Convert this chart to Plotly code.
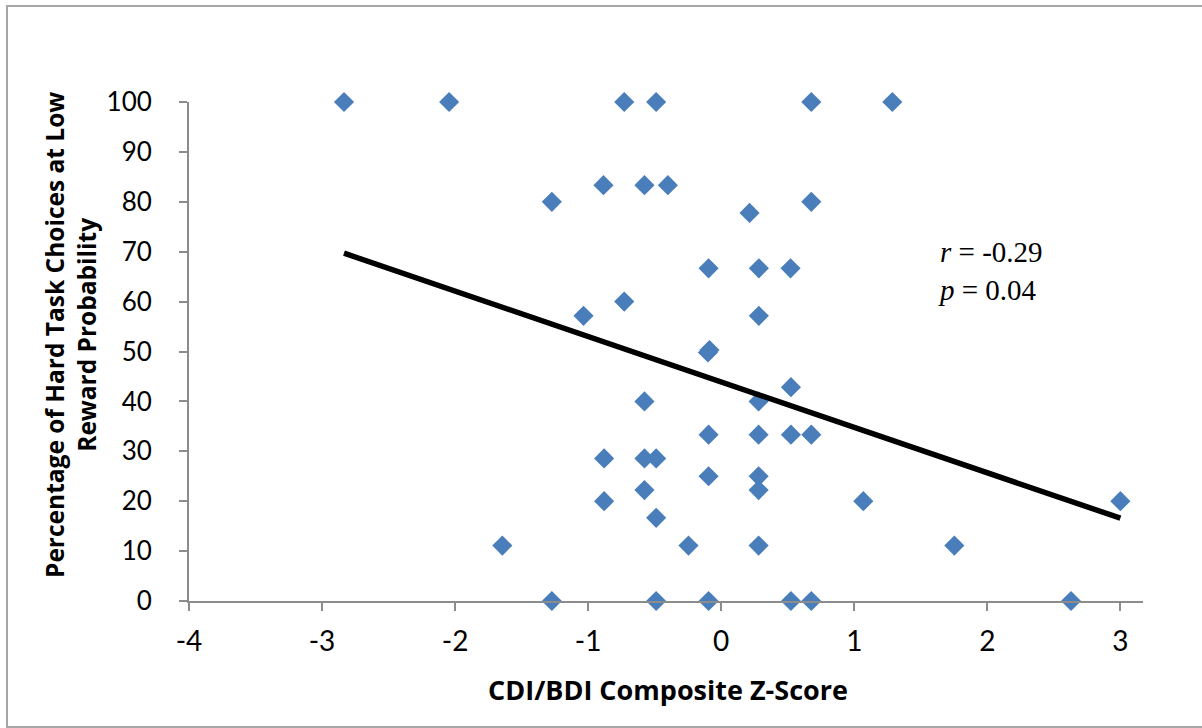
import plotly.graph_objects as go

# ---- data ----
z_scores = [-2.835, -2.045, -0.729, -0.489, 0.677, 1.286,
            -0.885, -0.577, -0.401,
            -1.273, 0.677, 0.213,
            -0.095, 0.283, 0.521,
            -0.729, -1.035, 0.283,
            -0.100, -0.088,
            0.524, -0.577, 0.281,
            -0.095, 0.281, 0.524, 0.677,
            -0.880, -0.577, -0.489,
            -0.095, 0.281,
            -0.577, 0.281,
            -0.880, 1.068, 3.000,
            -0.489,
            -1.645, -0.246, 0.281, 1.752,
            -1.273, -0.489, -0.095, 0.524, 0.677, 2.629]
pct_hard = [100, 100, 100, 100, 100, 100,
            83.33, 83.33, 83.33,
            80, 80, 77.78,
            66.67, 66.67, 66.67,
            60, 57.14, 57.14,
            49.8, 50.3,
            42.86, 40, 40,
            33.33, 33.33, 33.33, 33.33,
            28.57, 28.57, 28.57,
            25, 25,
            22.22, 22.22,
            20, 20, 20,
            16.67,
            11.11, 11.11, 11.11, 11.11,
            0, 0, 0, 0, 0, 0]
trend_x = [-2.835, 3.0]
trend_y = [69.7, 16.6]
x_ticks = [-4, -3, -2, -1, 0, 1, 2, 3]
y_ticks = [0, 10, 20, 30, 40, 50, 60, 70, 80, 90, 100]

# ---- layout geometry (pixels) ----
W, H = 1202, 728
L, R, T, B = 189, 1143, 102, 601
pw, ph = R - L, B - T


def px(xp):
    return (xp - L) / pw


def py(yp):
    return (B - yp) / ph


axis_col = "#8c8c8c"
tick_family = "Lato, Open Sans, sans-serif"
title_family = "Open Sans, Lato, sans-serif"

fig = go.Figure()
fig.add_trace(go.Scatter(
    x=z_scores, y=pct_hard, mode="markers",
    marker=dict(symbol="diamond", size=15.5, color="#4a7ebb",
                line=dict(width=0)),
    cliponaxis=False, showlegend=False, hoverinfo="x+y"))
fig.add_trace(go.Scatter(
    x=trend_x, y=trend_y, mode="lines",
    line=dict(color="black", width=5.5),
    cliponaxis=False, showlegend=False, hoverinfo="skip"))

fig.update_layout(
    width=W, height=H,
    margin=dict(l=L, r=W - R, t=T, b=H - B, pad=0),
    paper_bgcolor="white", plot_bgcolor="white",
    xaxis=dict(range=[-4, 3.17], tickvals=x_ticks,
               ticktext=[str(v) for v in x_ticks],
               showline=True, linecolor=axis_col, linewidth=2,
               ticks="outside", ticklen=8, tickcolor=axis_col, tickwidth=2,
               showgrid=False, zeroline=False,
               tickfont=dict(family=tick_family, size=28, color="black"),
               ticklabelstandoff=6),
    yaxis=dict(range=[0, 100], tickvals=y_ticks,
               showline=True, linecolor=axis_col, linewidth=2,
               ticks="outside", ticklen=8, tickcolor=axis_col, tickwidth=2,
               showgrid=False, zeroline=False,
               tickfont=dict(family=tick_family, size=26, color="black"),
               ticklabelstandoff=22),
    shapes=[dict(type="rect", xref="paper", yref="paper",
                 x0=px(7), x1=px(1215), y0=py(727), y1=py(6),
                 line=dict(color="#a6a6a6", width=2), fillcolor="rgba(0,0,0,0)",
                 layer="below")],
    annotations=[
        dict(text="<b>CDI/BDI Composite Z-Score</b>", xref="paper", yref="paper",
             x=px(668), y=py(689), xanchor="center", yanchor="middle",
             showarrow=False,
             font=dict(family=title_family, size=27, color="black")),
        dict(text="<b>Percentage of Hard Task Choices at Low<br>Reward Probability</b>",
             xref="paper", yref="paper", x=px(70), y=py(335),
             xanchor="center", yanchor="middle", textangle=-90, showarrow=False,
             font=dict(family=title_family, size=24.5, color="black")),
        dict(text="<i>r</i> = -0.29<br><i>p</i> = 0.04", xref="paper", yref="paper",
             x=px(936), y=py(271), xanchor="left", yanchor="middle", align="left",
             showarrow=False,
             font=dict(family="Liberation Serif, Times New Roman, serif", size=29,
                       color="black")),
    ],
)

fig.write_html("out.html",
               config={"displayModeBar": False},
               post_script="document.body.style.margin='0px';"
                           "document.body.style.overflow='hidden';")
